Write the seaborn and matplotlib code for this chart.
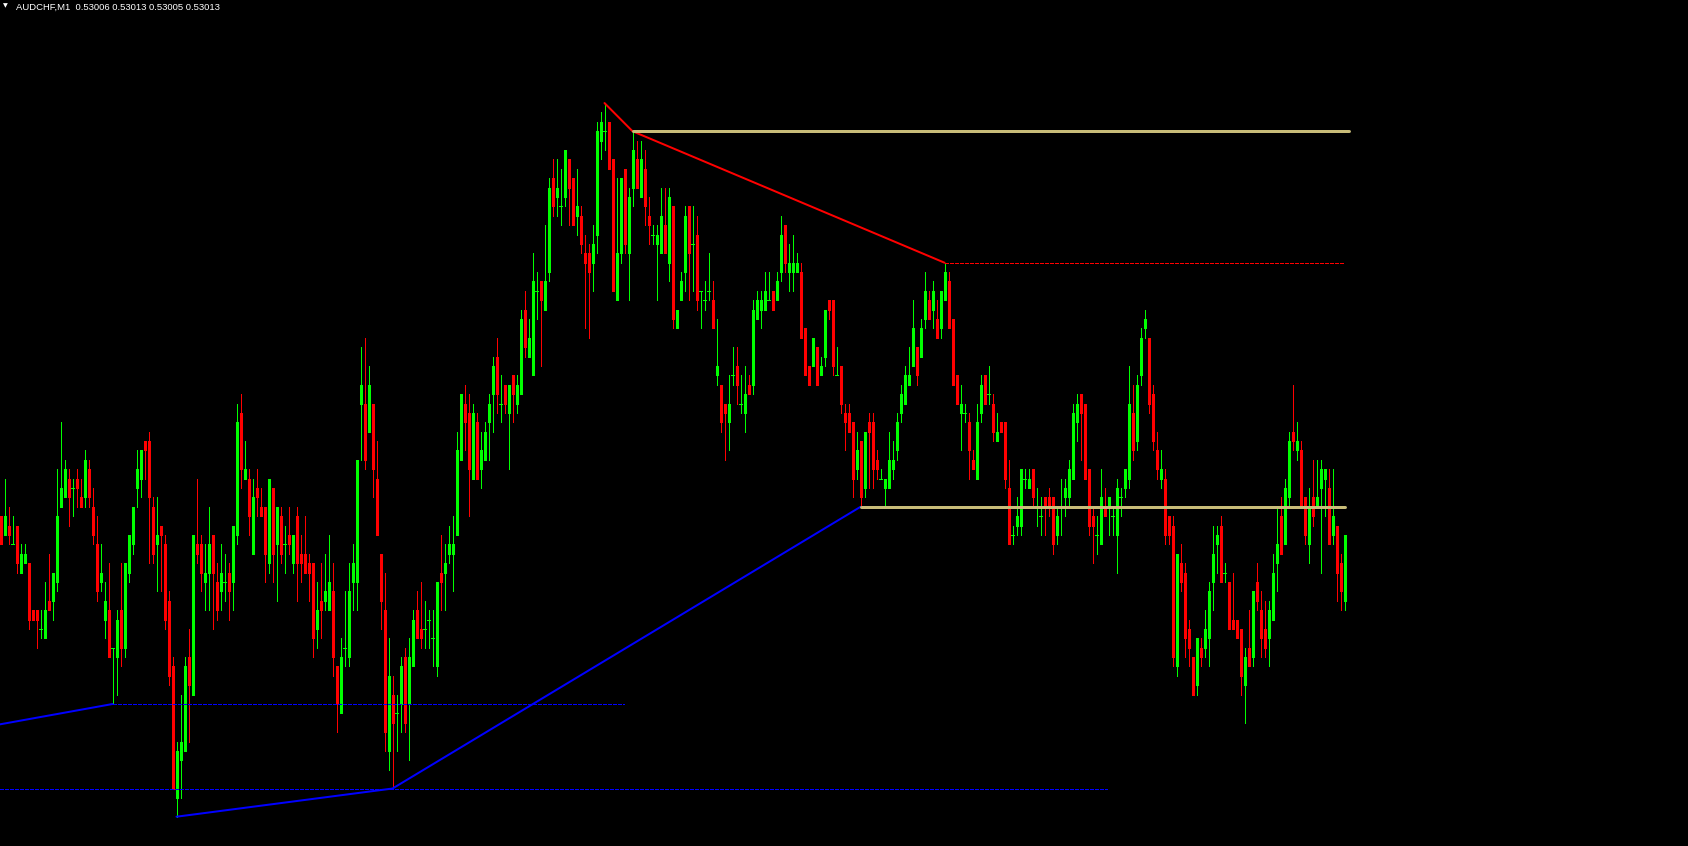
import numpy as np
import pandas as pd
import seaborn as sns
import matplotlib
matplotlib.use("Agg")
import matplotlib.pyplot as plt

symbol = "AUDCHF,M1"
base_price = 0.53000
point = 0.00001

# OHLC of each M1 bar, in points above 0.53000
opens_pts = [
    15, 13, 14, 12, 14, 9, 10, 10, 5, 5, 3, 2, 6, 6, 8, 16, 17, 19, 18, 19,
    17, 17, 20, 16, 12, 8, 4, 5, 1, 0, 5, 1, 9, 12, 18, 19, 23, 23, 16, 12,
    14, 12, 6, -1, -15, -11, -10, 0, -4, 12, 12, 8, 9, 13, 8, 7, 8, 9, 8, 13,
    26, 19, 19, 11, 18, 16, 16, 10, 18, 12, 15, 12, 13, 10, 15, 11, 11, 10, 10, 3,
    6, 6, 5, 7, -1, -6, 1, 0, 8, 8, 27, 27, 24, 27, 19, 11, 5, -10, -4, -6,
    -5, 0, -5, -1, 5, 3, 3, 4, 2, -1, 9, 9, 11, 11, 13, 21, 27, 26, 19, 25,
    20, 21, 25, 28, 32, 27, 29, 26, 30, 27, 28, 37, 32, 30, 39, 40, 37, 41, 51, 49,
    48, 49, 53, 51, 47, 47, 43, 43, 42, 45, 55, 56, 57, 53, 38, 43, 52, 43, 50, 53,
    49, 52, 47, 45, 44, 43, 46, 42, 48, 35, 38, 41, 48, 44, 45, 39, 38, 39, 38, 30,
    29, 27, 25, 30, 31, 27, 26, 29, 29, 36, 37, 37, 38, 39, 38, 41, 46, 41, 41, 41,
    41, 35, 31, 31, 33, 30, 32, 38, 38, 30, 31, 26, 26, 25, 20, 23, 18, 25, 25, 21,
    19, 18, 18, 20, 22, 26, 27, 29, 31, 33, 32, 36, 38, 37, 36, 35, 38, 40, 36, 30,
    26, 26, 25, 21, 19, 26, 30, 28, 27, 23, 25, 25, 18, 13, 14, 14, 19, 18, 20, 16,
    15, 17, 17, 17, 13, 16, 17, 17, 19, 25, 28, 27, 20, 15, 13, 12, 16, 16, 15, 13,
    17, 18, 19, 26, 23, 30, 35, 34, 28, 22, 19, 19, 15, 14, -1, 10, 9, 3, 0, -3,
    1, 1, 2, 8, 12, 14, 9, 8, 4, 4, 3, -3, 1, 0, 8, 5, 3, 2, 4, 10,
    15, 12, 17, 24, 22, 22, 17, 12, 17, 16, 18, 19, 18, 13, 14, 10, 6,
]
highs_pts = [
    15, 19, 16, 15, 14, 12, 12, 10, 5, 5, 5, 8, 11, 9, 20, 25, 21, 20, 19, 20,
    19, 22, 21, 18, 15, 12, 8, 10, 1, 5, 10, 10, 13, 16, 22, 22, 23, 24, 17, 17,
    14, 13, 7, 0, -9, -4, 0, 3, 13, 19, 13, 12, 16, 13, 10, 12, 11, 10, 14, 27,
    28, 23, 20, 19, 20, 18, 16, 19, 18, 16, 16, 14, 16, 13, 16, 13, 15, 11, 10, 8,
    10, 11, 13, 10, -1, 2, 7, 10, 12, 21, 33, 34, 31, 27, 23, 11, 9, 2, -2, -4,
    0, 1, 2, 5, 7, 8, 6, 5, 5, 8, 13, 12, 14, 15, 24, 28, 29, 28, 27, 26,
    24, 25, 28, 32, 34, 30, 29, 29, 30, 30, 37, 39, 36, 43, 41, 40, 46, 51, 53, 53,
    52, 54, 53, 51, 52, 48, 45, 44, 46, 57, 58, 59, 57, 53, 51, 51, 52, 50, 56, 55,
    55, 54, 49, 46, 46, 50, 50, 50, 48, 37, 41, 48, 48, 48, 47, 39, 40, 43, 40, 36,
    29, 27, 30, 33, 33, 30, 31, 30, 38, 39, 39, 41, 41, 39, 41, 47, 46, 44, 45, 43,
    42, 35, 31, 34, 33, 32, 37, 38, 38, 33, 31, 27, 27, 25, 24, 23, 24, 26, 26, 22,
    20, 19, 24, 23, 26, 29, 31, 33, 38, 33, 36, 41, 39, 40, 38, 39, 42, 41, 36, 30,
    29, 27, 26, 22, 27, 30, 30, 31, 28, 26, 25, 25, 21, 14, 17, 20, 20, 20, 20, 18,
    17, 17, 18, 17, 16, 19, 19, 21, 27, 28, 28, 27, 20, 16, 15, 20, 18, 17, 16, 19,
    18, 20, 31, 29, 30, 35, 37, 34, 29, 24, 22, 20, 15, 15, 11, 12, 10, 4, 0, 2,
    2, 5, 8, 14, 14, 15, 10, 8, 9, 4, 3, 1, 5, 7, 10, 7, 6, 6, 11, 16,
    17, 19, 24, 29, 25, 23, 17, 18, 21, 21, 21, 20, 20, 20, 14, 11, 13,
]
lows_pts = [
    12, 13, 12, 12, 9, 9, 10, 3, 4, 1, 2, 2, 5, 4, 7, 16, 17, 14, 15, 16,
    16, 16, 16, 12, 6, 7, 2, 0, -5, -4, -1, 0, 8, 11, 16, 17, 19, 10, 10, 7,
    7, 3, -3, -14, -17, -15, -10, -9, -4, 10, 7, 5, 5, 3, 4, 5, 6, 4, 5, 12,
    18, 19, 13, 11, 15, 15, 8, 9, 8, 6, 10, 9, 11, 9, 6, 8, 9, 6, 0, 1,
    2, 5, 5, -2, -8, -6, -1, -1, 5, 5, 21, 20, 24, 17, 13, 3, -10, -12, -14, -10,
    -8, -8, -11, -1, 2, 1, 1, 1, -1, -2, 5, 5, 10, 7, 13, 21, 22, 15, 19, 19,
    18, 21, 21, 24, 26, 25, 26, 20, 25, 26, 28, 32, 32, 30, 36, 31, 37, 40, 47, 47,
    46, 48, 46, 46, 45, 43, 35, 34, 39, 43, 53, 54, 52, 39, 38, 42, 43, 38, 48, 50,
    49, 46, 44, 44, 38, 43, 43, 40, 35, 35, 38, 39, 38, 39, 37, 35, 37, 38, 35, 29,
    24, 21, 22, 29, 27, 26, 24, 28, 28, 36, 35, 37, 38, 37, 38, 40, 41, 39, 39, 41,
    34, 30, 29, 31, 29, 30, 31, 36, 30, 30, 26, 22, 24, 17, 19, 16, 17, 18, 18, 19,
    19, 16, 18, 19, 21, 25, 27, 29, 31, 29, 32, 35, 36, 35, 34, 34, 38, 35, 29, 27,
    22, 25, 19, 20, 19, 25, 27, 27, 23, 23, 24, 18, 12, 12, 13, 13, 18, 18, 16, 14,
    13, 13, 15, 11, 12, 13, 15, 16, 19, 23, 21, 19, 13, 10, 11, 12, 15, 13, 13, 9,
    15, 17, 18, 21, 22, 29, 34, 26, 22, 19, 18, 12, 12, -1, -2, 7, 0, -1, -4, -4,
    -1, 0, -1, 5, 9, 8, 8, 3, 3, 2, -4, -7, -1, -1, 5, 0, 0, -1, 4, 7,
    11, 12, 16, 22, 21, 16, 12, 10, 14, 16, 9, 15, 12, 12, 6, 5, 5,
]
closes_pts = [
    12, 15, 13, 12, 10, 11, 11, 4, 4, 4, 3, 5, 5, 9, 15, 18, 20, 17, 18, 18,
    16, 21, 17, 13, 7, 9, 6, 0, 1, 4, 1, 10, 13, 16, 20, 22, 22, 17, 11, 13,
    13, 4, -2, -14, -10, -9, -1, -3, 13, 11, 9, 9, 12, 9, 5, 9, 8, 7, 14, 25,
    20, 20, 15, 17, 17, 15, 11, 19, 11, 16, 11, 12, 12, 13, 10, 10, 9, 9, 2, 5,
    5, 7, 8, 0, -5, 0, 1, 7, 10, 21, 29, 21, 29, 20, 13, 6, -8, -2, -7, -6,
    -1, -7, 0, 4, 2, 2, 3, 4, 2, 8, 8, 10, 12, 12, 22, 28, 25, 20, 26, 19,
    22, 24, 27, 31, 28, 27, 27, 29, 28, 29, 36, 33, 34, 40, 39, 38, 40, 50, 48, 50,
    48, 54, 50, 46, 48, 44, 42, 41, 44, 56, 57, 56, 52, 39, 43, 51, 44, 49, 54, 50,
    53, 48, 46, 45, 45, 47, 43, 49, 36, 37, 40, 47, 43, 44, 38, 39, 38, 39, 35, 31,
    25, 26, 27, 30, 29, 27, 28, 28, 37, 38, 38, 39, 38, 37, 40, 45, 42, 42, 42, 42,
    34, 30, 29, 34, 29, 31, 37, 37, 31, 30, 27, 25, 24, 19, 22, 17, 24, 24, 20, 20,
    19, 19, 21, 21, 25, 28, 30, 30, 35, 30, 35, 39, 36, 39, 34, 39, 41, 35, 29, 27,
    27, 26, 22, 20, 25, 29, 27, 28, 24, 24, 24, 19, 12, 13, 15, 20, 19, 19, 17, 16,
    15, 16, 16, 12, 15, 16, 18, 20, 26, 27, 26, 19, 14, 14, 13, 17, 15, 17, 15, 18,
    17, 20, 27, 22, 29, 34, 36, 27, 23, 20, 20, 13, 13, 0, 11, 8, 2, 1, -4, 2,
    0, 3, 7, 11, 13, 8, 9, 3, 3, 2, -2, 0, -1, 7, 6, 2, 1, 5, 9, 12,
    11, 18, 23, 23, 23, 16, 13, 16, 15, 17, 20, 20, 12, 15, 9, 7, 13,
]

# zigzag swings (bar index, points)
red_swing_bars = [151, 158, 236]
red_swing_pts = [59, 56, 42]
blue_swing1_bars = [-37, 28]
blue_swing1_pts = [-10, -5]
blue_swing2_bars = [44, 98, 215]
blue_swing2_pts = [-17, -14, 16]

# horizontal levels: (points, from bar, to bar)
gold_levels = [(56, 158, 337), (16, 215, 336)]
red_dot_levels = [(42, 236, 335.5)]
blue_dot_levels = [(-5, 28, 155.75), (-14, -0.25, 276.5)]

BULL = "#00FF00"
BEAR = "#FF0000"
GOLD = "#C8BC78"
BLUE = "#0000FF"
PX = 0.72  # one pixel in points at 100 dpi
DOTS = (0, (4, 2))

n = len(closes_pts)
assert len(opens_pts) == n and len(highs_pts) == n and len(lows_pts) == n, (len(opens_pts), len(highs_pts), len(lows_pts), n)

def to_price(p):
    return base_price + np.asarray(p, dtype=float) * point

df = pd.DataFrame({
    "bar": np.arange(n),
    "open": to_price(opens_pts),
    "high": to_price(highs_pts),
    "low": to_price(lows_pts),
    "close": to_price(closes_pts),
})

sns.set_theme(style="dark", rc={"axes.facecolor": "black", "figure.facecolor": "black"})
plt.rcParams["font.family"] = ["Liberation Sans", "DejaVu Sans"]

fig = plt.figure(figsize=(16.88, 8.46), dpi=100, facecolor="black")
ax = fig.add_axes([0, 0, 1, 1])
ax.set_facecolor("black")

up = (df["close"] >= df["open"]).to_numpy()
colors = np.where(up, BULL, BEAR)

# wicks
ax.vlines(df["bar"], df["low"], df["high"], colors=colors, linewidth=PX,
          antialiased=False, zorder=2)

# bodies (3 px wide)
flat = np.isclose(df["close"], df["open"])
solid = ~flat
ax.vlines(df["bar"][solid], df["open"][solid], df["close"][solid], colors=colors[solid],
          linewidth=3 * PX, antialiased=False, capstyle="butt", zorder=3)
ax.hlines(df["open"][flat], df["bar"][flat] - 0.375, df["bar"][flat] + 0.375,
          colors=colors[flat], linewidth=PX, antialiased=False, zorder=3)

# zigzag lines
for bars, pts, col in [(red_swing_bars, red_swing_pts, BEAR),
                       (blue_swing1_bars, blue_swing1_pts, BLUE),
                       (blue_swing2_bars, blue_swing2_pts, BLUE)]:
    sns.lineplot(x=bars, y=to_price(pts), color=col, linewidth=2 * PX, ax=ax,
                 estimator=None, sort=False, legend=False, zorder=4)

# levels
for lvl, x0, x1 in gold_levels:
    sns.lineplot(x=[x0, x1], y=to_price([lvl, lvl]), color=GOLD, linewidth=3 * PX,
                 ax=ax, estimator=None, legend=False, zorder=4)
for lvl, x0, x1 in red_dot_levels:
    ax.hlines(to_price(lvl), x0, x1, colors=BEAR, linewidth=PX, linestyles=DOTS,
              antialiased=False, zorder=4)
for lvl, x0, x1 in blue_dot_levels:
    ax.hlines(to_price(lvl), x0, x1, colors=BLUE, linewidth=PX, linestyles=DOTS,
              antialiased=False, zorder=4)

ax.set_xlim(-0.125, 421.875)
ax.set_ylim(base_price - 20.12 * point, base_price + 69.975 * point)
ax.set_axis_off()

last = df.iloc[-1]
title = f"{symbol}  {last['open']:.5f} {last['high']:.5f} {last['low']:.5f} {last['close']:.5f}"
fig.text(16 / 1688, 1 - 9.5 / 846, title, color="white", fontsize=6.8,
         ha="left", va="baseline")
fig.text(5.5 / 1688, 1 - 6 / 846, "\u25bc", color="white", fontsize=4.5,
         ha="center", va="center", family="DejaVu Sans")

fig.savefig("out.png", dpi=100, facecolor="black")
